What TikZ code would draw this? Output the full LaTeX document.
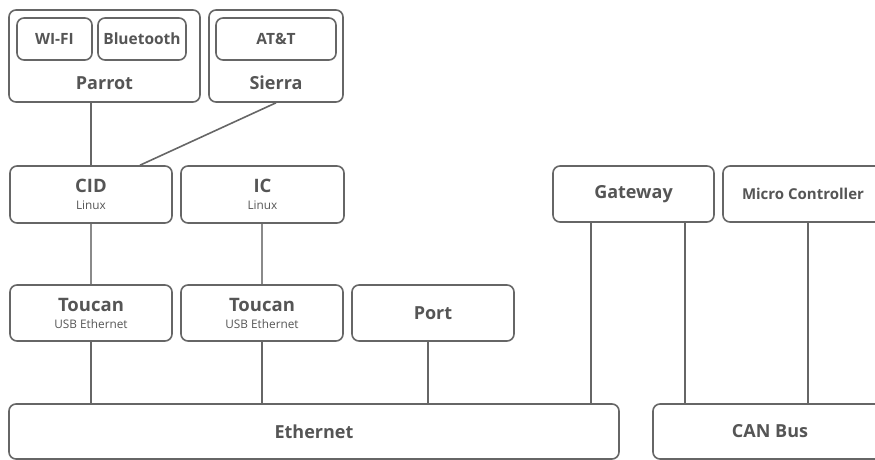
\documentclass[tikz,border=0pt]{standalone}
\usepackage{fontspec}
\setmainfont{Open Sans}
\usetikzlibrary{calc}
\definecolor{linecol}{HTML}{666666}
\definecolor{txtcol}{HTML}{555555}
\definecolor{lightline}{HTML}{8A8A8A}
\newcommand{\subtxt}[1]{{\fontsize{11.8}{13}\selectfont\mdseries #1}}
\begin{document}
\begin{tikzpicture}[x=1pt,y=-1pt,
  box/.style={draw=linecol,line width=1.6pt,rounded corners=7pt,inner sep=0pt,anchor=center,text=txtcol,font=\bfseries\fontsize{18}{20}\selectfont,align=center},
  smallbox/.style={box,font=\bfseries\fontsize{15.5}{17}\selectfont},
  lbl/.style={text=txtcol,font=\bfseries\fontsize{18}{20}\selectfont,inner sep=0pt},
  conn/.style={draw=linecol,line width=1.6pt},
  lconn/.style={draw=lightline,line width=1.2pt}]
\useasboundingbox (0,0) rectangle (875,460);
\clip (0,0) rectangle (875,460);
% top group
\node[box,minimum width=191pt,minimum height=92pt] (parrot) at (104.5,56) {};
\node[smallbox,minimum width=75pt,minimum height=42pt] (wifi) at (54.5,39) {WI-FI};
\node[smallbox,minimum width=88pt,minimum height=42pt] (bt) at (142,39) {Bluetooth};
\node[lbl] (parrotlbl) at (104.5,83) {Parrot};
\node[box,minimum width=134pt,minimum height=92pt] (sierra) at (276,56) {};
\node[smallbox,minimum width=120pt,minimum height=42pt] (att) at (276,39) {AT\&T};
\node[lbl] (sierralbl) at (276,83) {Sierra};
% middle row
\node[box,minimum width=162pt,minimum height=57pt] (cid) at (91,194.5) {\fontsize{18.5}{18}\selectfont CID\\[-3pt]\subtxt{Linux}};
\node[box,minimum width=163pt,minimum height=57pt] (ic) at (262.5,194.5) {\fontsize{18.5}{18}\selectfont IC\\[-3pt]\subtxt{Linux}};
\node[box,minimum width=161pt,minimum height=56pt] (gw) at (633.5,194) {Gateway};
\node[box,minimum width=160pt,minimum height=56pt,font=\bfseries\fontsize{15}{17}\selectfont] (mc) at (803,194) {Micro Controller};
% lower row
\node[box,minimum width=162pt,minimum height=56pt] (t1) at (91,313) {\fontsize{18.5}{18}\selectfont Toucan\\[-3pt]\subtxt{USB Ethernet}};
\node[box,minimum width=162pt,minimum height=56pt] (t2) at (262,313) {\fontsize{18.5}{18}\selectfont Toucan\\[-3pt]\subtxt{USB Ethernet}};
\node[box,minimum width=162pt,minimum height=56pt] (port) at (433,313) {Port};
% bottom
\node[box,minimum width=610pt,minimum height=55pt] (eth) at (314,431.5) {Ethernet};
\node[box,minimum width=234pt,minimum height=55pt] (can) at (770,431.5) {CAN Bus};
% connectors
\draw[conn] (parrot.south -| cid.north) -- (cid.north);
\draw[conn] (sierra.south) -- ([xshift=49pt]cid.north);
\draw[lconn] (cid.south) -- (t1.north);
\draw[lconn] (ic.south -| t2.north) -- (t2.north);
\draw[conn] (t1.south) -- (t1.south |- eth.north);
\draw[conn] (t2.south) -- (t2.south |- eth.north);
\draw[conn] ([xshift=-5pt]port.south) -- ([xshift=-5pt]port.south |- eth.north);
\draw[conn] ([xshift=-42.5pt]gw.south) -- ([xshift=-42.5pt]gw.south |- eth.north);
\draw[conn] ([xshift=51.5pt]gw.south) -- ([xshift=51.5pt]gw.south |- can.north);
\draw[conn] ([xshift=5pt]mc.south) -- ([xshift=5pt]mc.south |- can.north);
\end{tikzpicture}
\end{document}
